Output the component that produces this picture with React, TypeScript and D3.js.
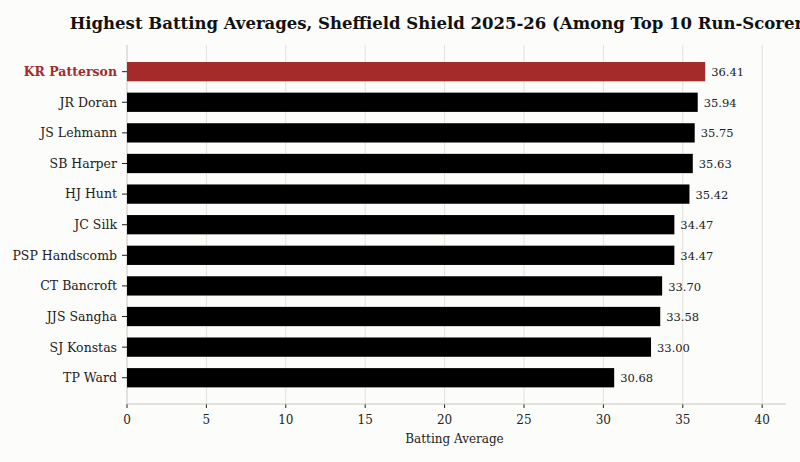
import React from 'react';
import * as d3 from 'd3';

const players = ['KR Patterson', 'JR Doran', 'JS Lehmann', 'SB Harper', 'HJ Hunt', 'JC Silk', 'PSP Handscomb', 'CT Bancroft', 'JJS Sangha', 'SJ Konstas', 'TP Ward'];
const averages = [36.41, 35.94, 35.75, 35.63, 35.42, 34.47, 34.47, 33.70, 33.58, 33.00, 30.68];
const xTicks = [0, 5, 10, 15, 20, 25, 30, 35, 40];

const W = 800, H = 462;
const m = { top: 45, right: 14, bottom: 58, left: 127 };
const font = "Georgia, 'DejaVu Serif', serif";

export default function App() {
  const x = d3.scaleLinear().domain([0, 41.5]).range([m.left, W - m.right]);
  const y = d3.scaleBand().domain(players).range([50.7, 398.7]).paddingInner(0.37).paddingOuter(0.37);
  const base = H - m.bottom;
  return (
    <svg width={W} height={H} style={{ position: 'absolute', left: 0, top: 0, background: '#fcfcfa', fontFamily: font }}>
      <rect width={W} height={H} fill="#fcfcfa" />
      <text x={445} y={29} textAnchor="middle" fontSize={16.5} fontWeight="bold" fill="#111">
        Highest Batting Averages, Sheffield Shield 2025-26 (Among Top 10 Run-Scorers)
      </text>
      {xTicks.map(t => (
        <g key={t}>
          {t > 0 && <line x1={x(t)} x2={x(t)} y1={m.top} y2={base} stroke="#e2e1da" />}
          <line x1={x(t)} x2={x(t)} y1={base} y2={base + 4} stroke="#222" />
          <text x={x(t)} y={base + 20} textAnchor="middle" fontSize={12} fill="#222">{t}</text>
        </g>
      ))}
      <line x1={m.left} x2={m.left} y1={m.top} y2={base} stroke="#c8c7c0" />
      <line x1={m.left} x2={W - m.right} y1={base} y2={base} stroke="#c8c7c0" />
      {players.map((p, i) => {
        const yy = y(p)!;
        const hl = i === 0;
        return (
          <g key={p}>
            <rect x={x(0)} y={yy} width={x(averages[i]) - x(0)} height={y.bandwidth()} fill={hl ? '#a52a2a' : '#000'} />
            <line x1={m.left - 5} x2={m.left} y1={yy + y.bandwidth() / 2} y2={yy + y.bandwidth() / 2} stroke="#222" />
            <text x={m.left - 10} y={yy + y.bandwidth() / 2} dy="0.35em" textAnchor="end" fontSize={12.5}
              fontWeight={hl ? 'bold' : 'normal'} fill={hl ? '#a52a2a' : '#222'}>{p}</text>
            <text x={x(averages[i]) + 6} y={yy + y.bandwidth() / 2} dy="0.4em" fontSize={11.5} fill="#222">{averages[i].toFixed(2)}</text>
          </g>
        );
      })}
      <text x={(m.left + x(41.5)) / 2 - 2} y={base + 39} textAnchor="middle" fontSize={12} fill="#222">Batting Average</text>
    </svg>
  );
}
